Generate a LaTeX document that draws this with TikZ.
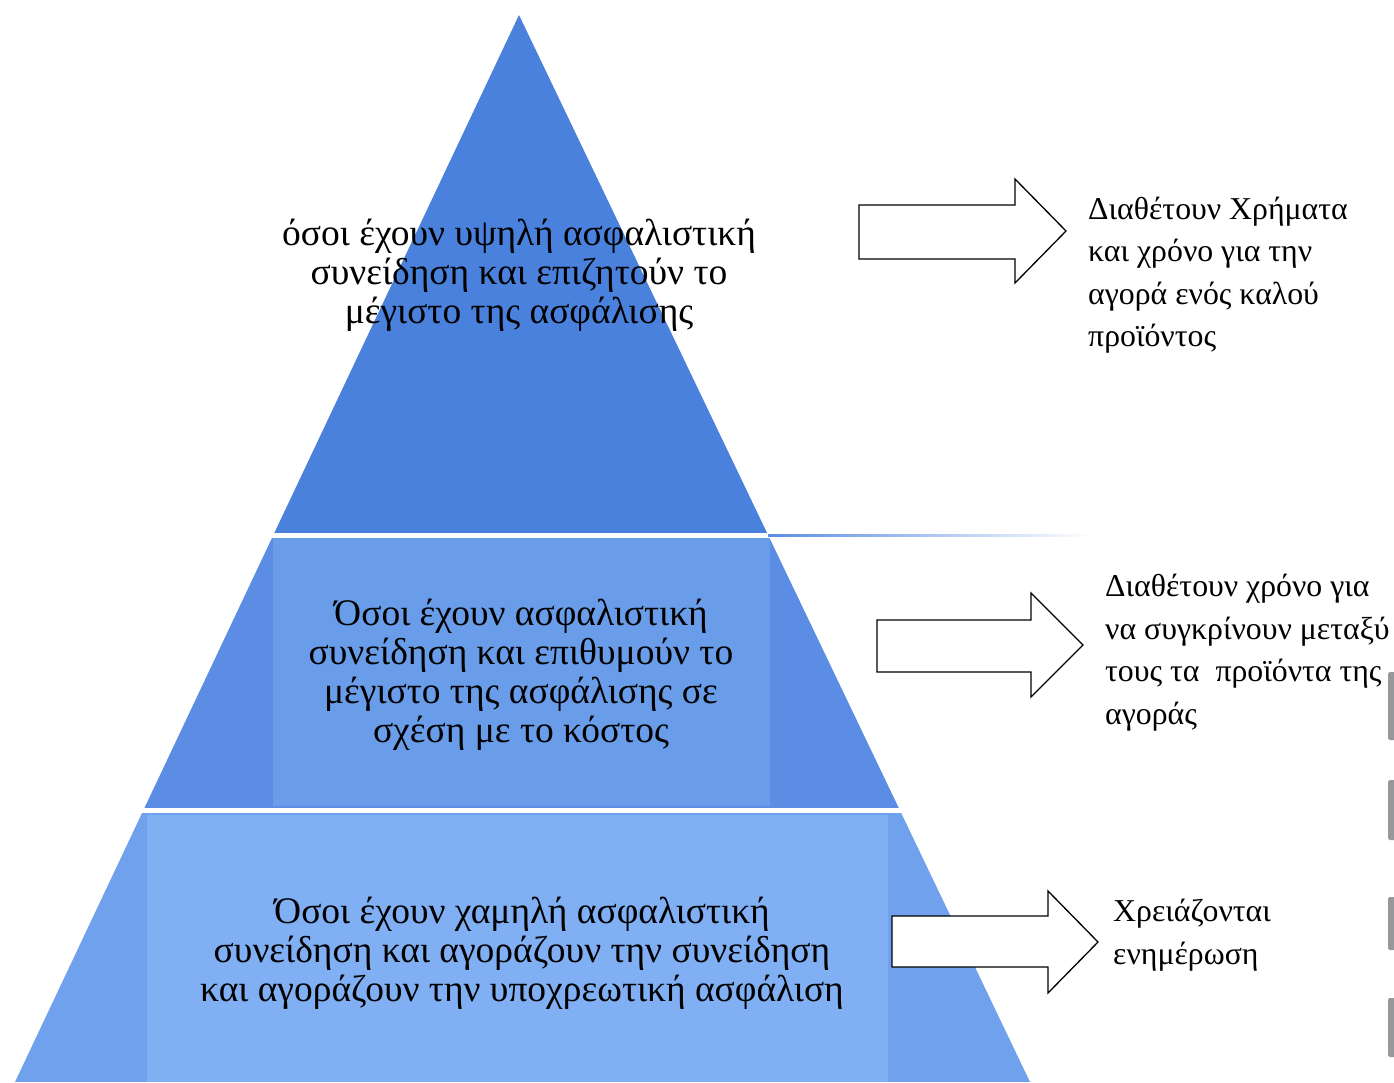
\documentclass[tikz,border=0pt]{standalone}
\usepackage{fontspec}
\setmainfont{Liberation Serif}
\begin{document}
\begin{tikzpicture}[x=1pt,y=-1pt,
  bandtext/.style={align=center,font=\fontsize{37.5}{39}\selectfont,text=black,inner sep=0pt},
  sidetext/.style={align=left,font=\fontsize{31.8}{42.5}\selectfont,text=black,inner sep=0pt,anchor=north west},
  blockarrow/.style={draw=black,fill=white,line width=1.3pt,line join=miter}
]
\definecolor{topblue}{RGB}{74,129,221}
\definecolor{midblue}{RGB}{90,141,227}
\definecolor{midbox}{RGB}{105,157,233}
\definecolor{botblue}{RGB}{112,161,237}
\definecolor{botbox}{RGB}{128,175,243}
\definecolor{markgray}{RGB}{150,152,156}

\useasboundingbox (0,0) rectangle (1394,1082);
\fill[white] (0,0) rectangle (1394,1082);

% pyramid, cut into three bands
\coordinate (apex) at (519,15);
\coordinate (baseL) at (15,1082);
\coordinate (baseR) at (1030,1082);
\begin{scope}
  \clip (apex) -- (baseR) -- (baseL) -- cycle;
  \fill[topblue] (0,0) rectangle (1394,533);
  \fill[midblue] (0,538) rectangle (1394,808);
  \fill[midbox] (273,538) rectangle (770,806);
  \fill[botblue] (0,813) rectangle (1394,1082);
  \fill[botbox] (147,815) rectangle (888,1082);
\end{scope}
% thin rule trailing off the top band
\shade[left color=midblue, right color=white] (768,534.5) rectangle (1092,536.5);

% band labels
\node[bandtext] (top) at (519,275) {όσοι έχουν υψηλή ασφαλιστική\\συνείδηση και επιζητούν το\\μέγιστο της ασφάλισης};
\node[bandtext] (mid) at (521,675) {Όσοι έχουν ασφαλιστική\\συνείδηση και επιθυμούν το\\μέγιστο της ασφάλισης σε\\σχέση με το κόστος};
\node[bandtext] (bot) at (522,953) {Όσοι έχουν χαμηλή ασφαλιστική\\συνείδηση και αγοράζουν την συνείδηση\\και αγοράζουν την υποχρεωτική ασφάλιση};

% block arrows
\draw[blockarrow] (859,205) -- (1015,205) -- (1015,179) -- (1066,231) -- (1015,283) -- (1015,259) -- (859,259) -- cycle;
\draw[blockarrow] (877,620) -- (1031,620) -- (1031,593) -- (1083,645) -- (1031,697) -- (1031,672) -- (877,672) -- cycle;
\draw[blockarrow] (892,916) -- (1048,916) -- (1048,891) -- (1098,942) -- (1048,993) -- (1048,967) -- (892,967) -- cycle;

% side notes
\node[sidetext] (note1) at (1088,196.5) {Διαθέτουν Χρήματα\\και χρόνο για την\\αγορά ενός καλού\\προϊόντος};
\node[sidetext] (note2) at (1105,574) {Διαθέτουν χρόνο για\\να συγκρίνουν μεταξύ\\τους τα \ προϊόντα της\\αγοράς};
\node[sidetext] (note3) at (1113,899) {Χρειάζονται\\ενημέρωση};

% grey marks along the right edge
\foreach \ya/\yb in {672/740, 780/840, 897/950, 998/1057}
  \fill[markgray, rounded corners=1.5pt] (1388,\ya) rectangle (1398,\yb);
\end{tikzpicture}
\end{document}
